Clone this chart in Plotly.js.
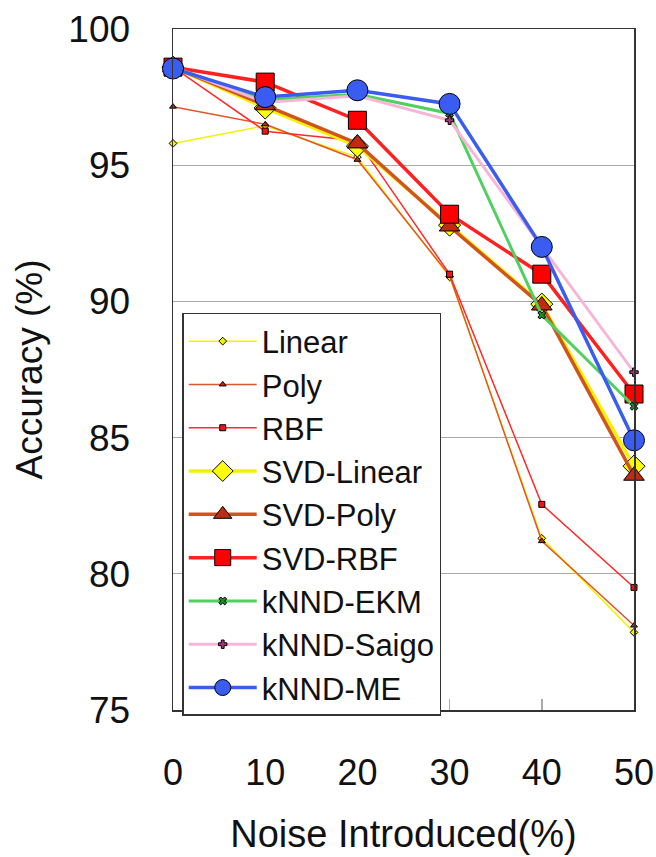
<!DOCTYPE html>
<html>
<head>
<meta charset="utf-8">
<script src="https://cdn.plot.ly/plotly-3.0.1.min.js"></script>
<style>html,body{margin:0;padding:0;background:#fff}#chart{width:656px;height:857px}</style>
</head>
<body>
<div id="chart"></div>
<script>
const noise = [0, 10, 20, 30, 40, 50];
const linear = [95.8, 96.45, 95.3, 90.9, 81.3, 77.85];
const poly = [97.15, 96.5, 95.2, 90.95, 81.2, 78.1];
const rbf = [98.6, 96.25, 95.9, 91.0, 82.55, 79.5];
const svdLinear = [98.6, 97.1, 95.7, 92.8, 89.9, 83.95];
const svdPoly = [98.6, 97.2, 95.8, 92.75, 89.85, 83.6];
const svdRbf = [98.6, 98.05, 96.65, 93.2, 91.0, 86.6];
const knndEkm = [98.6, 97.4, 97.6, 96.9, 89.5, 86.15];
const knndSaigo = [98.6, 97.3, 97.55, 96.65, 92.0, 87.4];
const knndMe = [98.55, 97.5, 97.75, 97.25, 92.0, 84.9];
const xTicks = [0, 10, 20, 30, 40, 50];
const yTicks = [75, 80, 85, 90, 95, 100];

function tr(name, y, lineColor, lw, sym, msize, mcolor) {
  return {
    x: noise, y: y, name: name, type: 'scatter', mode: 'lines+markers',
    cliponaxis: false,
    line: {color: lineColor, width: lw},
    marker: {symbol: sym, size: msize, color: mcolor, line: {color: '#000', width: 1}}
  };
}

const data = [
  tr('Linear', linear, '#f5f200', 1.5, 'diamond', 6, '#f5f200'),
  tr('Poly', poly, '#e0552a', 1.5, 'triangle-up', 6, '#c02a10'),
  tr('RBF', rbf, '#ff2a2a', 1.5, 'square', 6, '#ff1010'),
  tr('SVD-Linear', svdLinear, '#f5f200', 3.5, 'diamond', 17, '#ffff00'),
  tr('SVD-Poly', svdPoly, '#d0541e', 3.5, 'triangle-up', 18, '#c02a10'),
  tr('SVD-RBF', svdRbf, '#ff2020', 3.5, 'square', 18, '#ff0000'),
  tr('kNND-EKM', knndEkm, '#4fd060', 3, 'x', 7, '#1a8a2a'),
  tr('kNND-Saigo', knndSaigo, '#f7b6d8', 3, 'cross', 7, '#b0307a'),
  tr('kNND-ME', knndMe, '#3a5cf0', 3.5, 'circle', 21, '#3a5cf0')
];

const font = 'Liberation Sans, Arial, sans-serif';
const layout = {
  width: 656, height: 857,
  margin: {l: 173, r: 22, t: 29, b: 147},
  paper_bgcolor: '#fff', plot_bgcolor: '#fff',
  showlegend: true,
  font: {family: font, color: '#111'},
  xaxis: {
    range: [0, 50], tickvals: xTicks, ticktext: xTicks.map(String),
    showgrid: false, zeroline: false,
    showline: true, mirror: true, linecolor: '#333', linewidth: 1.5,
    ticks: 'inside', ticklen: 11, tickcolor: '#aaa', tickwidth: 1.5,
    ticklabelstandoff: 30, ticklabeloverflow: 'allow',
    tickfont: {size: 36, family: font, color: '#111'},
    title: {text: 'Noise Introduced(%)', font: {size: 38, family: font, color: '#111'}, standoff: 28}
  },
  yaxis: {
    range: [75, 100], tickvals: yTicks, ticktext: yTicks.map(String),
    showgrid: true, gridcolor: '#aaa', gridwidth: 1, zeroline: false,
    showline: true, mirror: true, linecolor: '#333', linewidth: 1.5,
    ticks: '', ticklabelstandoff: 34,
    tickfont: {size: 37, family: font, color: '#111'},
    title: {text: 'Accuracy (%)', font: {size: 37, family: font, color: '#111'}, standoff: 14}
  },
  legend: {
    x: 0.02, y: 0.583, xanchor: 'left', yanchor: 'top',
    bgcolor: '#fff', bordercolor: '#333', borderwidth: 1.5,
    font: {size: 31, family: font, color: '#111'},
    tracegroupgap: 0, itemwidth: 68
  }
};

Plotly.newPlot('chart', data, layout, {displayModeBar: false, staticPlot: true});
</script>
</body>
</html>
